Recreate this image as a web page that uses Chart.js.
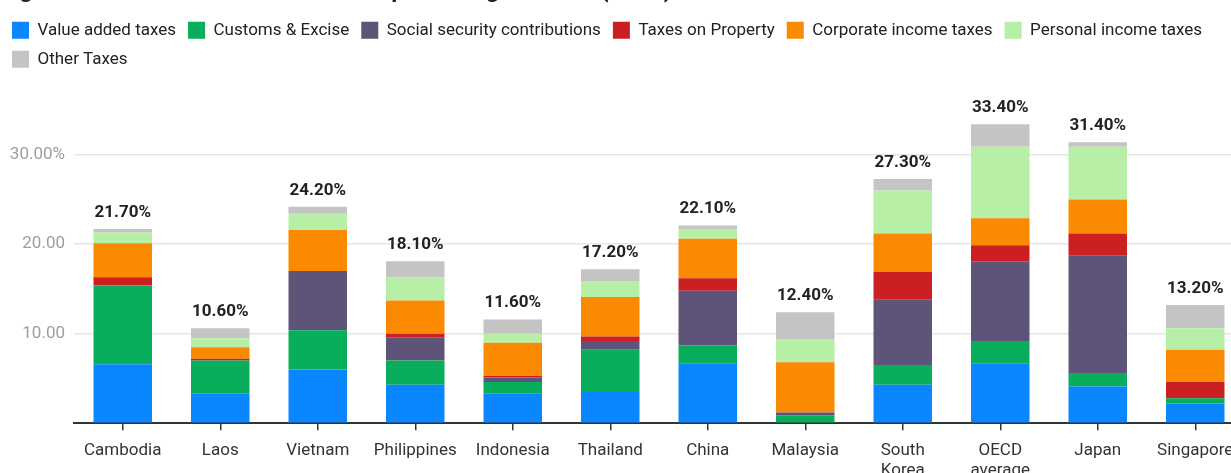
<!DOCTYPE html>
<html>
<head>
<meta charset="utf-8">
<title>Tax revenue structure</title>
<script src="https://cdn.jsdelivr.net/npm/chart.js@4.4.1/dist/chart.umd.min.js"></script>
<style>
  html, body { margin: 0; padding: 0; background: #fff; overflow: hidden; width: 1231px; height: 473px; }
  #wrap { position: absolute; left: 0; top: -33px; }
</style>
</head>
<body>
<div id="wrap"><canvas id="chart" width="1244" height="524"></canvas></div>
<script>
// Economies shown on the x axis
const categories = ['Cambodia', 'Laos', 'Vietnam', 'Philippines', 'Indonesia', 'Thailand', 'China',
  'Malaysia', ['South', 'Korea'], ['OECD', 'average'], 'Japan', 'Singapore'];

// Revenue by source, % of GDP
const valueAddedTaxes   = [6.6, 3.3, 6.0, 4.3, 3.3, 3.6, 6.7, 0.0, 4.3, 6.7, 4.1, 2.2];
const customsExcise     = [8.8, 3.7, 4.4, 2.7, 1.3, 4.6, 2.0, 0.9, 2.2, 2.5, 1.5, 0.6];
const socialSecurity    = [0.0, 0.0, 6.6, 2.6, 0.5, 1.0, 6.1, 0.3, 7.3, 8.9, 13.1, 0.0];
const taxesOnProperty   = [0.9, 0.2, 0.0, 0.4, 0.2, 0.5, 1.4, 0.0, 3.1, 1.8, 2.5, 1.8];
const corporateIncome   = [3.8, 1.3, 4.6, 3.7, 3.7, 4.4, 4.4, 5.6, 4.3, 3.0, 3.8, 3.6];
const personalIncome    = [1.2, 1.0, 1.8, 2.6, 1.0, 1.8, 1.1, 2.6, 4.8, 8.0, 5.9, 2.4];
const otherTaxes        = [0.4, 1.1, 0.8, 1.8, 1.6, 1.3, 0.4, 3.0, 1.3, 2.5, 0.5, 2.6];

// Total tax take printed above each bar
const totals = [21.7, 10.6, 24.2, 18.1, 11.6, 17.2, 22.1, 12.4, 27.3, 33.4, 31.4, 13.2];

// Y axis ticks
const yTickValues = [0, 10, 20, 30];
const yTickLabels = ['', '10.00', '20.00', '30.00%'];

const FONT = 'Roboto';

const series = [
  { label: 'Value added taxes', data: valueAddedTaxes, color: '#0a87fe' },
  { label: 'Customs & Excise', data: customsExcise, color: '#08ae5b' },
  { label: 'Social security contributions', data: socialSecurity, color: '#5e5479' },
  { label: 'Taxes on Property', data: taxesOnProperty, color: '#cb1f21' },
  { label: 'Corporate income taxes', data: corporateIncome, color: '#fa8b00' },
  { label: 'Personal income taxes', data: personalIncome, color: '#b8efa6' },
  { label: 'Other Taxes', data: otherTaxes, color: '#c4c4c4' }
];

// Bold totals drawn just above each stack
const totalLabels = {
  id: 'totalLabels',
  afterDatasetsDraw(chart) {
    const { ctx, scales: { x, y } } = chart;
    ctx.save();
    ctx.font = 'bold 17px ' + FONT;
    ctx.fillStyle = '#222';
    ctx.textAlign = 'center';
    ctx.textBaseline = 'alphabetic';
    totals.forEach((t, i) => {
      ctx.fillText(t.toFixed(2) + '%', x.getPixelForValue(i), y.getPixelForValue(t) - 12);
    });
    ctx.restore();
  }
};

new Chart(document.getElementById('chart'), {
  type: 'bar',
  data: {
    labels: categories,
    datasets: series.map(s => ({
      label: s.label,
      data: s.data,
      backgroundColor: s.color,
      borderWidth: 0,
      barPercentage: 0.75,
      categoryPercentage: 0.8
    }))
  },
  options: {
    responsive: false,
    animation: false,
    devicePixelRatio: 1,
    layout: { padding: 0 },
    plugins: {
      title: {
        display: true,
        text: 'Figure 1: Tax revenue structure as a percentage of GDP (2019)',
        align: 'start',
        color: '#222',
        font: { family: FONT, size: 24, weight: 'bold' },
        padding: { top: 10, bottom: 4 }
      },
      legend: {
        position: 'top',
        align: 'start',
        labels: {
          boxWidth: 17,
          boxHeight: 17,
          padding: 12,
          color: '#222',
          font: { family: FONT, size: 17 }
        }
      },
      tooltip: { enabled: false }
    },
    scales: {
      x: {
        stacked: true,
        grid: { display: true, drawOnChartArea: false, drawTicks: true, tickLength: 7, offset: false, color: '#333', lineWidth: 1.5 },
        border: { display: true, color: '#333', width: 2 },
        ticks: { padding: 10, color: '#333', font: { family: FONT, size: 17 }, maxRotation: 0, autoSkip: false }
      },
      y: {
        stacked: true,
        min: 0,
        max: 38.6,
        afterBuildTicks(scale) { scale.ticks = yTickValues.map(v => ({ value: v })); },
        afterFit(scale) { scale.width = 74; },
        border: { display: false },
        grid: { color: '#e6e6e6', lineWidth: 1.5, drawTicks: false },
        ticks: {
          padding: 9,
          color: '#9e9e9e',
          font: { family: FONT, size: 17 },
          callback: (value, index) => yTickLabels[index]
        }
      }
    }
  },
  plugins: [totalLabels]
});
</script>
</body>
</html>
